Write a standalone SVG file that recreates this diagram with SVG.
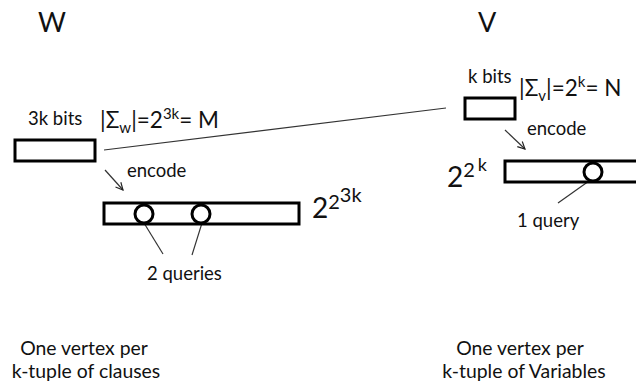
<svg xmlns="http://www.w3.org/2000/svg" width="636" height="385" viewBox="0 0 636 385">
<defs>
<marker id="ah" viewBox="0 0 10 10" refX="9" refY="5" markerWidth="9" markerHeight="9" orient="auto" markerUnits="userSpaceOnUse">
<path d="M1,1 L9,5 L1,9" fill="none" stroke="#222" stroke-width="1.3"/>
</marker>
<style>
text{font-family:Lato,"Open Sans","Liberation Sans",sans-serif;fill:#111}
.box{fill:#fff;stroke:#000;stroke-width:3}
.q{fill:#fff;stroke:#000;stroke-width:3}
.ln{stroke:#333;stroke-width:1.2;fill:none}
.lbl{font-size:18.5px}
.big{font-size:22.5px}
.title{font-size:27px}
.foot{font-size:19.4px;text-anchor:middle}
</style>
</defs>
<g id="W-label"><text class="title" x="38" y="32">W</text></g>
<g id="V-label"><text class="title" x="478" y="32">V</text></g>

<g id="connectors">
<line class="ln" x1="104" y1="150" x2="446" y2="108"/>
<line class="ln" x1="105" y1="170" x2="123" y2="190" marker-end="url(#ah)"/>
<line class="ln" x1="505" y1="130" x2="525" y2="149" marker-end="url(#ah)"/>
<line class="ln" x1="144" y1="223" x2="163" y2="254"/>
<line class="ln" x1="202" y1="223" x2="192" y2="255"/>
<line class="ln" x1="589" y1="181" x2="558" y2="203"/>
</g>

<g id="W-small">
<rect class="box" x="15" y="140" width="80" height="21"/>
<text class="lbl" x="28" y="125">3k bits</text>
<text class="big" x="100" y="128">|Σ<tspan font-size="15" dy="5">w</tspan><tspan dy="-5">|=2</tspan><tspan font-size="15" dy="-9">3k</tspan><tspan dy="9">= M</tspan></text>
</g>
<g id="W-encode"><text class="lbl" x="127" y="177">encode</text></g>
<g id="W-big">
<rect class="box" x="104" y="203" width="195" height="21"/>
<circle class="q" cx="144" cy="214" r="9"/>
<circle class="q" cx="201" cy="214" r="9"/>
<text x="312" y="218" font-size="28">2<tspan font-size="20" dy="-9">2</tspan><tspan font-size="20" dy="-7">3k</tspan></text>
</g>
<g id="W-queries"><text class="lbl" x="147" y="280">2 queries</text></g>

<g id="V-small">
<rect class="box" x="465" y="98" width="50" height="21"/>
<text class="lbl" x="468" y="83">k bits</text>
<text class="big" x="519" y="96">|Σ<tspan font-size="15" dy="5">v</tspan><tspan dy="-5">|=2</tspan><tspan font-size="15" dy="-9">k</tspan><tspan dy="9">= N</tspan></text>
</g>
<g id="V-encode"><text class="lbl" x="527" y="135">encode</text></g>
<g id="V-big">
<rect class="box" x="505" y="161" width="140" height="21"/>
<circle class="q" cx="593" cy="172" r="9"/>
<text x="447" y="187" font-size="28">2<tspan font-size="20" dy="-10">2</tspan><tspan font-size="18" dy="-6" dx="3">k</tspan></text>
</g>
<g id="V-query"><text class="lbl" x="517" y="227">1 query</text></g>

<g id="W-foot"><text class="foot" x="84" y="355">One vertex per</text><text class="foot" x="86" y="378">k-tuple of clauses</text></g>
<g id="V-foot"><text class="foot" x="520" y="355">One vertex per</text><text class="foot" x="524" y="378">k-tuple of Variables</text></g>
</svg>
